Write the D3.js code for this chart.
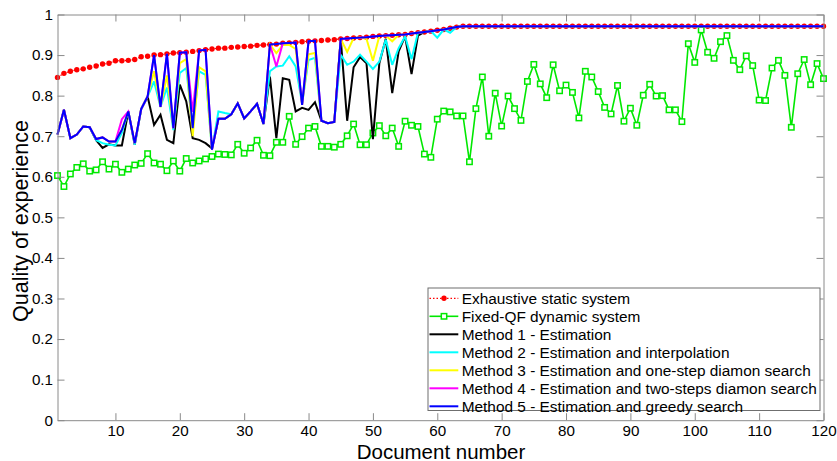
<!DOCTYPE html>
<html>
<head>
<meta charset="utf-8">
<script src="https://cdn.jsdelivr.net/npm/d3@7"></script>
<style>
  html, body { margin: 0; padding: 0; background: #fff; }
  svg { display: block; font-family: Arial, "Liberation Sans", sans-serif; }
</style>
</head>
<body>
<svg id="chart" width="837" height="461"></svg>
<script>
// ---------------- DATA ----------------
const docs = d3.range(1, 121);
const xTickValues = [10, 20, 30, 40, 50, 60, 70, 80, 90, 100, 110, 120];
const yTickValues = [0, 0.1, 0.2, 0.3, 0.4, 0.5, 0.6, 0.7, 0.8, 0.9, 1];
const yTickLabels = ["0", "0.1", "0.2", "0.3", "0.4", "0.5", "0.6", "0.7", "0.8", "0.9", "1"];

const exhaustive = [
  0.845,0.855,0.860,0.864,0.866,0.870,0.873,0.878,0.880,0.886,
  0.886,0.887,0.889,0.896,0.897,0.900,0.901,0.903,0.905,0.906,
  0.907,0.909,0.911,0.913,0.915,0.917,0.917,0.919,0.920,0.921,
  0.922,0.924,0.925,0.926,0.927,0.929,0.930,0.931,0.933,0.934,
  0.935,0.936,0.937,0.938,0.940,0.941,0.942,0.943,0.944,0.946,
  0.947,0.948,0.949,0.950,0.951,0.953,0.955,0.957,0.959,0.961,
  0.963,0.966,0.969,0.971,0.971,0.971,0.971,0.971,0.971,0.971,
  0.971,0.971,0.971,0.971,0.971,0.971,0.971,0.971,0.971,0.971,
  0.971,0.971,0.971,0.971,0.971,0.971,0.971,0.971,0.971,0.971,
  0.971,0.971,0.971,0.971,0.971,0.971,0.971,0.971,0.971,0.971,
  0.971,0.971,0.971,0.971,0.971,0.971,0.971,0.971,0.971,0.971,
  0.971,0.971,0.971,0.971,0.971,0.971,0.971,0.971,0.971,0.971
];

const fixedQF = [
  0.603,0.576,0.607,0.623,0.632,0.614,0.617,0.637,0.619,0.631,
  0.611,0.619,0.629,0.633,0.657,0.634,0.631,0.615,0.639,0.614,
  0.645,0.634,0.639,0.644,0.650,0.656,0.655,0.654,0.680,0.658,
  0.671,0.690,0.653,0.652,0.685,0.685,0.749,0.680,0.699,0.720,
  0.724,0.675,0.675,0.673,0.680,0.701,0.730,0.679,0.679,0.708,
  0.726,0.701,0.720,0.675,0.737,0.727,0.724,0.656,0.648,0.742,
  0.762,0.760,0.750,0.750,0.637,0.768,0.846,0.700,0.806,0.725,
  0.799,0.768,0.739,0.835,0.877,0.829,0.795,0.876,0.812,0.826,
  0.808,0.745,0.860,0.846,0.810,0.771,0.755,0.825,0.737,0.769,
  0.727,0.801,0.828,0.799,0.800,0.765,0.765,0.736,0.928,0.882,
  0.962,0.907,0.892,0.933,0.948,0.887,0.864,0.898,0.874,0.789,
  0.788,0.868,0.887,0.850,0.722,0.854,0.889,0.827,0.879,0.842
];

const method1 = [
  0.704,0.765,0.695,0.704,0.724,0.722,0.690,0.671,0.680,0.677,
  0.677,0.761,0.679,0.767,0.798,0.728,0.753,0.691,0.683,0.827,
  0.786,0.695,0.691,0.683,0.670,0.743,0.743,0.754,0.781,0.744,
  0.761,0.780,0.730,0.847,0.695,0.843,0.839,0.761,0.770,0.765,
  0.784,0.738,0.732,0.735,0.940,0.738,0.870,0.895,0.880,0.693,
  0.880,0.940,0.806,0.909,0.946,0.853,0.948,0.957,0.959,0.961,
  0.963,0.966,0.969,0.971,0.971,0.971,0.971,0.971,0.971,0.971,
  0.971,0.971,0.971,0.971,0.971,0.971,0.971,0.971,0.971,0.971,
  0.971,0.971,0.971,0.971,0.971,0.971,0.971,0.971,0.971,0.971,
  0.971,0.971,0.971,0.971,0.971,0.971,0.971,0.971,0.971,0.971,
  0.971,0.971,0.971,0.971,0.971,0.971,0.971,0.971,0.971,0.971,
  0.971,0.971,0.971,0.971,0.971,0.971,0.971,0.971,0.971,0.971
];

const method2 = [
  0.704,0.765,0.695,0.704,0.724,0.722,0.690,0.683,0.679,0.677,
  0.708,0.761,0.679,0.767,0.798,0.835,0.772,0.820,0.715,0.856,
  0.868,0.720,0.860,0.851,0.667,0.761,0.757,0.754,0.781,0.744,
  0.761,0.780,0.730,0.860,0.872,0.874,0.897,0.872,0.781,0.888,
  0.893,0.738,0.732,0.735,0.901,0.876,0.884,0.901,0.884,0.866,
  0.884,0.938,0.876,0.917,0.946,0.890,0.955,0.957,0.959,0.943,
  0.963,0.955,0.969,0.971,0.971,0.971,0.971,0.971,0.971,0.971,
  0.971,0.971,0.971,0.971,0.971,0.971,0.971,0.971,0.971,0.971,
  0.971,0.971,0.971,0.971,0.971,0.971,0.971,0.971,0.971,0.971,
  0.971,0.971,0.971,0.971,0.971,0.971,0.971,0.971,0.971,0.971,
  0.971,0.971,0.971,0.971,0.971,0.971,0.971,0.971,0.971,0.971,
  0.971,0.971,0.971,0.971,0.971,0.971,0.971,0.971,0.971,0.971
];

const method3 = [
  0.704,0.765,0.695,0.704,0.724,0.722,0.693,0.697,0.687,0.687,
  0.716,0.761,0.683,0.767,0.798,0.860,0.772,0.850,0.720,0.880,
  0.890,0.700,0.870,0.860,0.667,0.743,0.743,0.754,0.781,0.744,
  0.761,0.780,0.730,0.926,0.905,0.925,0.925,0.915,0.777,0.902,
  0.905,0.738,0.732,0.735,0.940,0.908,0.942,0.943,0.940,0.886,
  0.947,0.948,0.934,0.950,0.951,0.953,0.955,0.957,0.959,0.961,
  0.963,0.966,0.969,0.971,0.971,0.971,0.971,0.971,0.971,0.971,
  0.971,0.971,0.971,0.971,0.971,0.971,0.971,0.971,0.971,0.971,
  0.971,0.971,0.971,0.971,0.971,0.971,0.971,0.971,0.971,0.971,
  0.971,0.971,0.971,0.971,0.971,0.971,0.971,0.971,0.971,0.971,
  0.971,0.971,0.971,0.971,0.971,0.971,0.971,0.971,0.971,0.971,
  0.971,0.971,0.971,0.971,0.971,0.971,0.971,0.971,0.971,0.971
];

const method4 = [
  0.704,0.765,0.695,0.704,0.724,0.722,0.693,0.697,0.687,0.687,
  0.742,0.761,0.683,0.767,0.798,0.900,0.772,0.903,0.720,0.906,
  0.907,0.760,0.911,0.913,0.667,0.743,0.743,0.754,0.781,0.744,
  0.761,0.780,0.730,0.926,0.872,0.929,0.930,0.931,0.777,0.934,
  0.935,0.738,0.732,0.735,0.940,0.941,0.942,0.943,0.944,0.946,
  0.947,0.948,0.949,0.950,0.951,0.953,0.955,0.957,0.959,0.961,
  0.963,0.966,0.969,0.971,0.971,0.971,0.971,0.971,0.971,0.971,
  0.971,0.971,0.971,0.971,0.971,0.971,0.971,0.971,0.971,0.971,
  0.971,0.971,0.971,0.971,0.971,0.971,0.971,0.971,0.971,0.971,
  0.971,0.971,0.971,0.971,0.971,0.971,0.971,0.971,0.971,0.971,
  0.971,0.971,0.971,0.971,0.971,0.971,0.971,0.971,0.971,0.971,
  0.971,0.971,0.971,0.971,0.971,0.971,0.971,0.971,0.971,0.971
];

const method5 = [
  0.704,0.765,0.695,0.704,0.724,0.722,0.693,0.697,0.687,0.687,
  0.716,0.761,0.683,0.767,0.798,0.900,0.772,0.903,0.720,0.906,
  0.907,0.720,0.911,0.913,0.667,0.743,0.743,0.754,0.781,0.744,
  0.761,0.780,0.730,0.926,0.927,0.929,0.930,0.931,0.777,0.934,
  0.935,0.738,0.732,0.735,0.940,0.941,0.942,0.943,0.944,0.946,
  0.947,0.948,0.949,0.950,0.951,0.953,0.955,0.957,0.959,0.961,
  0.963,0.966,0.969,0.971,0.971,0.971,0.971,0.971,0.971,0.971,
  0.971,0.971,0.971,0.971,0.971,0.971,0.971,0.971,0.971,0.971,
  0.971,0.971,0.971,0.971,0.971,0.971,0.971,0.971,0.971,0.971,
  0.971,0.971,0.971,0.971,0.971,0.971,0.971,0.971,0.971,0.971,
  0.971,0.971,0.971,0.971,0.971,0.971,0.971,0.971,0.971,0.971,
  0.971,0.971,0.971,0.971,0.971,0.971,0.971,0.971,0.971,0.971
];

const seriesNames = [
  "Exhaustive static system",
  "Fixed-QF dynamic system",
  "Method 1 - Estimation",
  "Method 2 - Estimation and interpolation",
  "Method 3 - Estimation and one-step diamon search",
  "Method 4 - Estimation and two-steps diamon search",
  "Method 5 - Estimation and greedy search"
];
const seriesColors = ["#ff0000", "#00e800", "#000000", "#00ffff", "#ffff00", "#ff00ff", "#0000ff"];
const xTitle = "Document number";
const yTitle = "Quality of experience";

// ---------------- CHART ----------------
const svg = d3.select("#chart");
const x = d3.scaleLinear().domain([1, 120]).range([57.5, 823.5]);
const y = d3.scaleLinear().domain([0, 1]).range([420.2, 14.5]);
const axisColor = "#8a8a8a";

svg.append("rect").attr("width", 837).attr("height", 461).attr("fill", "#fff");

const line = vals => d3.line().x((d, i) => x(docs[i])).y(d => y(d))(vals);

const allSeries = [exhaustive, fixedQF, method1, method2, method3, method4, method5];

const plot = svg.append("g");

// Exhaustive (red dotted + filled dots)
plot.append("path").attr("d", line(exhaustive)).attr("fill", "none")
  .attr("stroke", seriesColors[0]).attr("stroke-width", 1.2).attr("stroke-dasharray", "1.5,2");
plot.append("g").selectAll("circle").data(exhaustive).join("circle")
  .attr("cx", (d, i) => x(docs[i])).attr("cy", d => y(d)).attr("r", 2.7)
  .attr("fill", seriesColors[0]);

// Fixed-QF (green line + open squares)
plot.append("path").attr("d", line(fixedQF)).attr("fill", "none")
  .attr("stroke", seriesColors[1]).attr("stroke-width", 1.6);
plot.append("g").selectAll("rect").data(fixedQF).join("rect")
  .attr("x", (d, i) => x(docs[i]) - 2.7).attr("y", d => y(d) - 2.7)
  .attr("width", 5.4).attr("height", 5.4)
  .attr("fill", "#fff").attr("stroke", seriesColors[1]).attr("stroke-width", 1.5);

// Methods
for (let k = 2; k < 7; k++) {
  plot.append("path").attr("d", line(allSeries[k])).attr("fill", "none")
    .attr("stroke", seriesColors[k]).attr("stroke-width", 2)
    .attr("stroke-linejoin", "miter").attr("stroke-miterlimit", 3);
}

// ---------------- AXES ----------------
const gB = svg.append("g").attr("transform", `translate(0,${y(0)})`)
  .call(d3.axisBottom(x).tickValues(xTickValues).tickSizeInner(-7).tickSizeOuter(0).tickPadding(5.5));
const gT = svg.append("g").attr("transform", `translate(0,${y(1)})`)
  .call(d3.axisTop(x).tickValues(xTickValues).tickSizeInner(-7).tickSizeOuter(0).tickFormat(""));
const gL = svg.append("g").attr("transform", `translate(${x(1)},0)`)
  .call(d3.axisLeft(y).tickValues(yTickValues).tickSizeInner(-7).tickSizeOuter(0).tickPadding(4.5)
    .tickFormat((d, i) => yTickLabels[i]));
const gR = svg.append("g").attr("transform", `translate(${x(120)},0)`)
  .call(d3.axisRight(y).tickValues(yTickValues).tickSizeInner(-7).tickSizeOuter(0).tickFormat(""));

[gB, gT, gL, gR].forEach(g => {
  g.select(".domain").attr("stroke", axisColor).attr("stroke-width", 1);
  g.selectAll(".tick line").attr("stroke", axisColor).attr("stroke-width", 1);
  g.selectAll(".tick text").attr("fill", "#000").attr("font-size", 15.2)
    .attr("font-family", "Arial, 'Liberation Sans', sans-serif");
});

// Axis titles
svg.append("text").attr("x", 441).attr("y", 458.5).attr("text-anchor", "middle")
  .attr("font-size", 20.5).attr("fill", "#000").text(xTitle);
svg.append("text").attr("transform", `translate(28,${221}) rotate(-90)`)
  .attr("text-anchor", "middle").attr("font-size", 21.5).attr("fill", "#000").text(yTitle);

// ---------------- LEGEND ----------------
const leg = svg.append("g");
leg.append("rect").attr("x", 428).attr("y", 288).attr("width", 392).attr("height", 122.5)
  .attr("fill", "#fff").attr("stroke", "#6f6f6f").attr("stroke-width", 1);

seriesNames.forEach((name, i) => {
  const cy = 298.3 + i * 18;
  const row = leg.append("g");
  const ln = row.append("line").attr("x1", 429.5).attr("x2", 458.3).attr("y1", cy).attr("y2", cy)
    .attr("stroke", seriesColors[i]).attr("stroke-width", i === 0 ? 1.2 : (i === 1 ? 1.6 : 2));
  if (i === 0) {
    ln.attr("stroke-dasharray", "1.5,2");
    row.append("circle").attr("cx", 444).attr("cy", cy).attr("r", 2.7).attr("fill", seriesColors[0]);
  }
  if (i === 1) {
    row.append("rect").attr("x", 444 - 2.7).attr("y", cy - 2.7).attr("width", 5.4).attr("height", 5.4)
      .attr("fill", "#fff").attr("stroke", seriesColors[1]).attr("stroke-width", 1.5);
  }
  row.append("text").attr("x", 461.7).attr("y", cy + 5.4).attr("font-size", 15.4)
    .attr("fill", "#000").text(name);
});
</script>
</body>
</html>
